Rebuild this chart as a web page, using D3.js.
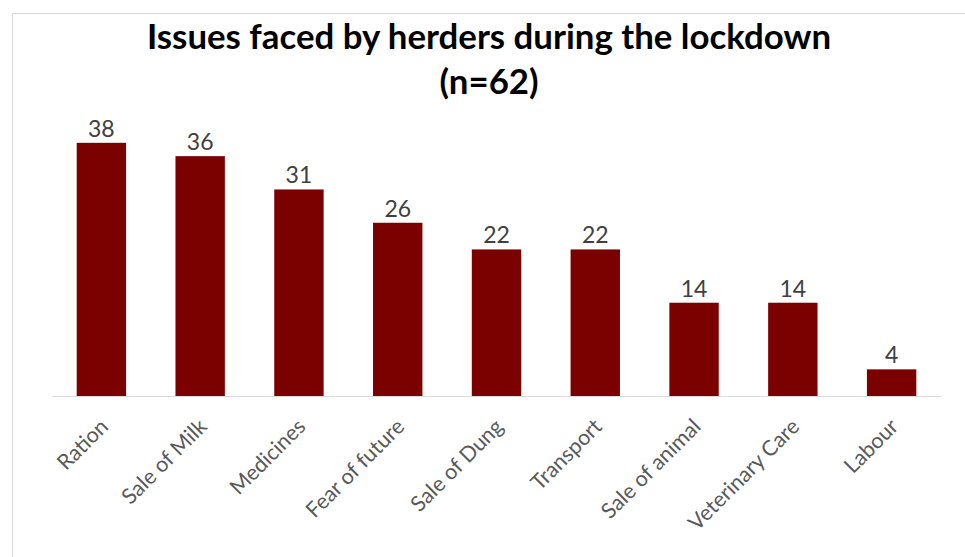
<!DOCTYPE html>
<html>
<head>
<meta charset="utf-8">
<script src="https://cdn.jsdelivr.net/npm/d3@7"></script>
<style>
  html, body { margin: 0; padding: 0; background: #fff; }
  svg { display: block; }
  text { font-family: Lato, "Open Sans", sans-serif; }
</style>
</head>
<body>
<svg id="chart" width="965" height="557"></svg>
<script>
// Issues faced by herders during the lockdown
const categories = ["Ration", "Sale of Milk", "Medicines", "Fear of future", "Sale of Dung",
                    "Transport", "Sale of animal", "Veterinary Care", "Labour"];
const counts = [38, 36, 31, 26, 22, 22, 14, 14, 4];
const titleLines = ["Issues faced by herders during the lockdown", "(n=62)"];

const svg = d3.select("#chart");
const W = 965, H = 557;

// chart frame
svg.append("rect")
  .attr("x", 12.5).attr("y", 13.5)
  .attr("width", W + 20).attr("height", H + 20)
  .attr("fill", "#fff").attr("stroke", "#d9d9d9").attr("stroke-width", 1);

const plot = { left: 52, right: 941, top: 129.5, bottom: 396 };

const x = d3.scaleBand()
  .domain(categories)
  .range([plot.left, plot.right])
  .paddingInner(0.5)
  .paddingOuter(0.25);

const y = d3.scaleLinear()
  .domain([0, 40])
  .range([plot.bottom, plot.top]);

// title
svg.append("g").selectAll("text")
  .data(titleLines)
  .join("text")
  .attr("x", 489)
  .attr("y", (d, i) => 49 + i * 45)
  .attr("text-anchor", "middle")
  .attr("font-size", 34.8)
  .attr("font-weight", "bold")
  .attr("fill", "#000")
  .text(d => d);

// bars
svg.append("g").selectAll("rect")
  .data(counts)
  .join("rect")
  .attr("x", (d, i) => x(categories[i]))
  .attr("y", d => y(d))
  .attr("width", x.bandwidth())
  .attr("height", d => y(0) - y(d))
  .attr("fill", "#7b0000");

// value labels
svg.append("g").selectAll("text")
  .data(counts)
  .join("text")
  .attr("x", (d, i) => x(categories[i]) + x.bandwidth() / 2)
  .attr("y", d => y(d) - 6)
  .attr("text-anchor", "middle")
  .attr("font-size", 23)
  .attr("fill", "#404040")
  .text(d => d);

// category axis
const xAxis = svg.append("g")
  .attr("transform", `translate(0,${plot.bottom})`)
  .call(d3.axisBottom(x).tickSize(0).tickPadding(0));
xAxis.select(".domain").attr("stroke", "#d9d9d9").attr("stroke-width", 1.2);
xAxis.selectAll(".tick text")
  .attr("font-size", 21.5)
  .attr("fill", "#595959")
  .attr("text-anchor", "end")
  .attr("dy", null)
  .attr("transform", "translate(8,32) rotate(-45)")
  .attr("y", 0)
  .attr("x", 0);
</script>
</body>
</html>
